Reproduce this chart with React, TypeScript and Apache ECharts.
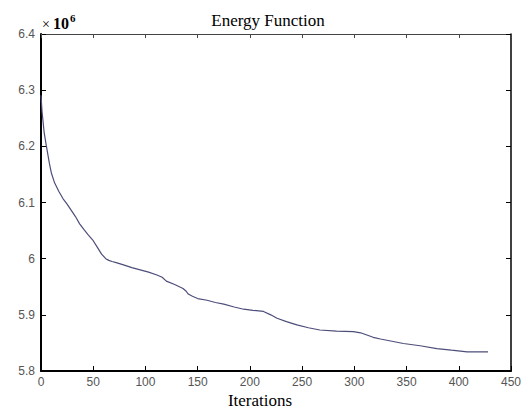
import React, { useEffect, useRef } from "react";
import * as echarts from "echarts";

const iterations = [0, 1, 3, 5, 8, 10, 13, 17, 21, 25, 29, 33, 37, 41, 45, 50, 54, 58, 62, 65, 68, 72, 79, 87, 95, 103, 111, 116, 120, 128, 136, 139, 141, 145, 150, 159, 167, 175, 185, 194, 203, 213, 220, 226, 235, 245, 256, 267, 283, 299, 306, 312, 318, 325, 336, 347, 363, 379, 393, 408, 418, 428];
const energy = [6.291, 6.262, 6.225, 6.202, 6.17, 6.152, 6.135, 6.12, 6.107, 6.097, 6.086, 6.075, 6.062, 6.052, 6.043, 6.032, 6.02, 6.008, 6.0, 5.997, 5.995, 5.993, 5.989, 5.984, 5.98, 5.976, 5.971, 5.967, 5.96, 5.954, 5.947, 5.942, 5.937, 5.933, 5.929, 5.926, 5.922, 5.919, 5.914, 5.91, 5.908, 5.906, 5.9, 5.894, 5.888, 5.882, 5.877, 5.873, 5.871, 5.87, 5.868, 5.864, 5.86, 5.857, 5.853, 5.849, 5.845, 5.84, 5.837, 5.834, 5.834, 5.834];

const xMin = 0, xMax = 450, xStep = 50;
const yMin = 5.8, yMax = 6.4, yStep = 0.1;
const titleText = "Energy Function";
const xLabelText = "Iterations";

export default function App() {
  const ref = useRef<HTMLDivElement>(null);
  useEffect(() => {
    if (!ref.current) return;
    const chart = echarts.init(ref.current, undefined, { renderer: "svg" });
    const tickLabel = { color: "#555", fontFamily: "Liberation Sans", fontSize: 12 };
    const serif = "Liberation Serif";
    chart.setOption({
      animation: false,
      backgroundColor: "#fff",
      grid: { left: 41, right: 18, top: 34, bottom: 41, show: false },
      graphic: [
        { type: "text", x: 268, y: 20, style: { text: titleText, fontFamily: serif, fontSize: 17, fill: "#000", textAlign: "center", textVerticalAlign: "middle" } },
        { type: "text", x: 260, y: 400, style: { text: xLabelText, fontFamily: serif, fontSize: 17, fill: "#000", textAlign: "center", textVerticalAlign: "middle" } },
        { type: "text", x: 42, y: 24, style: { text: "×", fontFamily: serif, fontSize: 14, fill: "#000", textAlign: "left", textVerticalAlign: "middle" } },
        { type: "text", x: 53, y: 23.5, style: { text: "10", fontFamily: serif, fontSize: 16, fontWeight: "bold", fill: "#000", textAlign: "left", textVerticalAlign: "middle" } },
        { type: "text", x: 70, y: 18, style: { text: "6", fontFamily: serif, fontSize: 11, fontWeight: "bold", fill: "#000", textAlign: "left", textVerticalAlign: "middle" } },
      ],
      xAxis: [
        {
          type: "value", min: xMin, max: xMax, interval: xStep, position: "bottom",
          axisLine: { show: true, onZero: false, lineStyle: { color: "#000", width: 2 } },
          axisTick: { show: true, inside: true, length: 5, lineStyle: { color: "#000" } },
          axisLabel: { ...tickLabel, margin: 5, showMaxLabel: true, showMinLabel: true },
          splitLine: { show: false },
        },
        {
          type: "value", min: xMin, max: xMax, interval: xStep, position: "top",
          axisLine: { show: true, onZero: false, lineStyle: { color: "#444", width: 1 } },
          axisTick: { show: true, inside: true, length: 4, lineStyle: { color: "#444" } },
          axisLabel: { show: false },
          splitLine: { show: false },
        },
      ],
      yAxis: [
        {
          type: "value", min: yMin, max: yMax, interval: yStep, position: "left",
          axisLine: { show: true, onZero: false, lineStyle: { color: "#000", width: 2 } },
          axisTick: { show: true, inside: true, length: 5, lineStyle: { color: "#000" } },
          axisLabel: { ...tickLabel, margin: 6, formatter: (v: number) => String(+v.toFixed(1)) },
          splitLine: { show: false },
        },
        {
          type: "value", min: yMin, max: yMax, interval: yStep, position: "right",
          axisLine: { show: true, onZero: false, lineStyle: { color: "#000", width: 1.5 } },
          axisTick: { show: true, inside: true, length: 5, lineStyle: { color: "#000" } },
          axisLabel: { show: false },
          splitLine: { show: false },
        },
      ],
      series: [
        {
          type: "line",
          xAxisIndex: 0,
          yAxisIndex: 0,
          data: iterations.map((x, i) => [x, energy[i]]),
          showSymbol: false,
          symbol: "none",
          lineStyle: { color: "#4d4d7a", width: 1.2 },
        },
      ],
    });
    return () => chart.dispose();
  }, []);
  return <div ref={ref} style={{ position: "absolute", left: 0, top: 0, width: 529, height: 412 }} />;
}
